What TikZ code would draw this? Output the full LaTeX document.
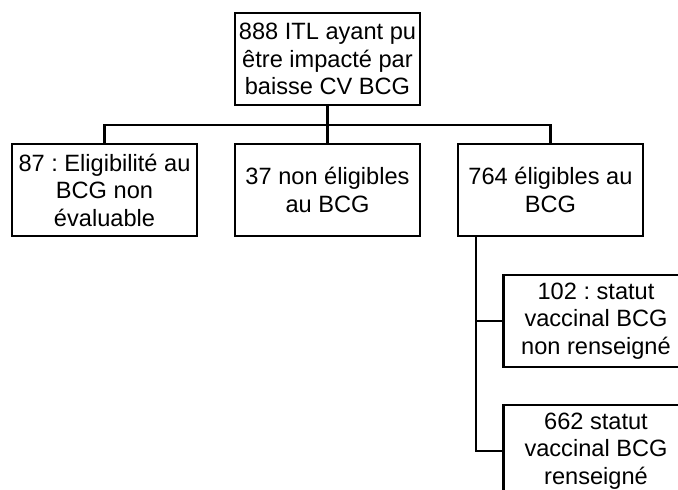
\documentclass[tikz,border=0pt]{standalone}
\usepackage{fontspec}
\setmainfont{Liberation Sans}
\frenchspacing
\begin{document}
\begin{tikzpicture}[x=1pt,y=-1pt,
  box/.style={draw=black, line width=2.4pt, fill=white, minimum width=185pt, minimum height=92pt,
    inner sep=1pt, align=center, font=\fontsize{23.6}{27.5}\selectfont},
  link/.style={line width=2.4pt}]
\useasboundingbox (0,0) rectangle (678,490);
\clip (0,0) rectangle (678,490);
\node[box] (root) at (327.5,59) {888 ITL ayant pu\\être impacté par\\baisse CV BCG};
\node[box] (a) at (104.5,190) {87 : Eligibilité au\\BCG non\\évaluable};
\node[box] (b) at (327.5,190) {37 non éligibles\\au BCG};
\node[box] (c) at (550.5,190) {764 éligibles au\\BCG};
\node[box] (d) at (596,321) {102 : statut\\vaccinal BCG\\non renseigné};
\node[box] (e) at (596,451) {662 statut\\vaccinal BCG\\renseigné};
\coordinate (bus) at (327.5,125);
\draw[link] (root.south) -- (bus);
\draw[link] (bus) -| (a.north);
\draw[link] (bus) -- (b.north);
\draw[link] (bus) -| (c.north);
\coordinate (cs) at ([xshift=19pt]c.south west);
\draw[link] (cs) |- (d.west);
\draw[link] (cs) |- (e.west);
\end{tikzpicture}
\end{document}
